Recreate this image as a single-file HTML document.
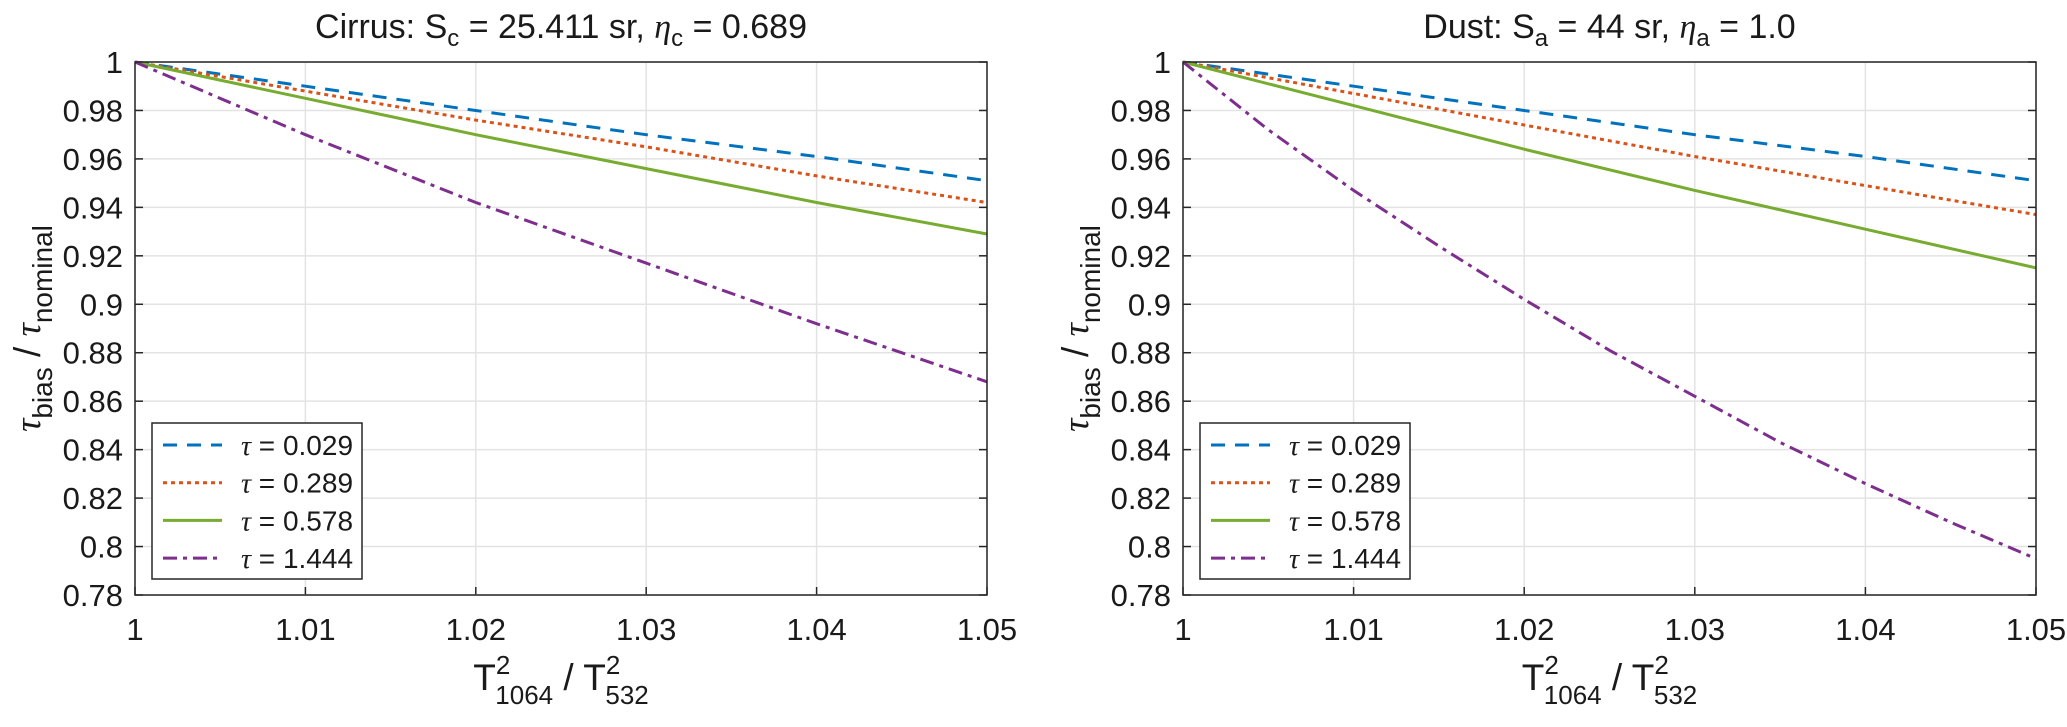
<!DOCTYPE html>
<html><head><meta charset="utf-8"><style>
body{margin:0;background:#fff}
svg text{font-family:"Liberation Sans",sans-serif;fill:#1a1a1a}
</style></head><body>
<svg id="c" width="2067" height="722" xmlns="http://www.w3.org/2000/svg"></svg>
<script>
const xTicks=[1,1.01,1.02,1.03,1.04,1.05];
const xTickLabels=["1","1.01","1.02","1.03","1.04","1.05"];
const yTicks=[0.78,0.8,0.82,0.84,0.86,0.88,0.9,0.92,0.94,0.96,0.98,1];
const yTickLabels=["0.78","0.8","0.82","0.84","0.86","0.88","0.9","0.92","0.94","0.96","0.98","1"];
const xs6=[1,1.01,1.02,1.03,1.04,1.05];
const xs11=[1,1.005,1.01,1.015,1.02,1.025,1.03,1.035,1.04,1.045,1.05];
const legendLabels=["0.029","0.289","0.578","1.444"];
const cirrusBlue=[1,0.990,0.980,0.970,0.961,0.951];
const cirrusRed=[1,0.988,0.976,0.965,0.953,0.942];
const cirrusGreen=[1,0.985,0.970,0.956,0.942,0.929];
const cirrusPurple=[1,0.970,0.942,0.917,0.892,0.868];
const dustBlue=[1,0.990,0.980,0.970,0.961,0.951];
const dustRed=[1,0.987,0.974,0.961,0.949,0.937];
const dustGreen=[1,0.982,0.964,0.947,0.931,0.915];
const dustPurple=[1,0.972,0.947,0.924,0.902,0.881,0.862,0.843,0.826,0.810,0.795];

const NS="http://www.w3.org/2000/svg";
const svg=document.getElementById('c');
function mk(t,a,p){const e=document.createElementNS(NS,t);for(const k in a)e.setAttribute(k,a[k]);(p||svg).appendChild(e);return e;}
const styles=[
 {stroke:"#0072bd",dash:"14 10"},
 {stroke:"#d95319",dash:"4 4"},
 {stroke:"#77ac30",dash:""},
 {stroke:"#7e2f8e",dash:"14 6 4 6"}];
function panel(name,L,R,T,B,title,series){
  const g=mk('g',{});
  
  
  const sx=v=>L+(v-1)/0.05*(R-L);
  const sy=v=>B-(v-0.78)/0.22*(B-T);
  xTicks.forEach((t,i)=>{
    const gl=mk('line',{x1:sx(t),x2:sx(t),y1:T,y2:B,stroke:"#e3e3e3","stroke-width":1.5},g);
    
    
    const tx=mk('text',{x:sx(t),y:B+45,"font-size":31,"text-anchor":"middle"},g);
    tx.textContent=xTickLabels[i];
    
    
    mk('line',{x1:sx(t),x2:sx(t),y1:B,y2:B-8,stroke:"#262626","stroke-width":1.5},g);
  });
  yTicks.forEach((t,i)=>{
    const gl=mk('line',{x1:L,x2:R,y1:sy(t),y2:sy(t),stroke:"#e3e3e3","stroke-width":1.5},g);
    
    
    const tx=mk('text',{x:L-12,y:sy(t)+11,"font-size":31,"text-anchor":"end"},g);
    tx.textContent=yTickLabels[i];
    
    
    mk('line',{x1:L,x2:L+8,y1:sy(t),y2:sy(t),stroke:"#262626","stroke-width":1.5},g);
    mk('line',{x1:R,x2:R-8,y1:sy(t),y2:sy(t),stroke:"#262626","stroke-width":1.5},g);
  });
  series.forEach((s,i)=>{
    const d=s.y.map((v,j)=>(j?'L':'M')+sx(s.x[j]).toFixed(1)+' '+sy(v).toFixed(1)).join(' ');
    const p=mk('path',{d:d,fill:"none",stroke:styles[i].stroke,"stroke-width":3,"stroke-dasharray":styles[i].dash},g);
    
    
  });
  const box=mk('rect',{x:L,y:T,width:R-L,height:B-T,fill:"none",stroke:"#262626","stroke-width":1.5},g);
  
  
  const lg=mk('g',{},g);
  
  
  mk('rect',{x:L+17,y:423,width:210,height:156,fill:"#fff",stroke:"#262626","stroke-width":1.5},lg);
  legendLabels.forEach((lab,i)=>{
    const y=445+i*37.7;
    mk('line',{x1:L+28,x2:L+87,y1:y,y2:y,stroke:styles[i].stroke,"stroke-width":3,"stroke-dasharray":styles[i].dash},lg);
    const t=mk('text',{x:L+106,y:y+10,"font-size":28},lg);
    t.innerHTML='<tspan font-family="Liberation Serif" font-style="italic">τ</tspan> = '+lab;
    
    
  });
  const tt=mk('text',{x:(L+R)/2,y:38,"font-size":34,"text-anchor":"middle"},g);
  tt.innerHTML=title;
  
  
  const xl=mk('text',{x:(L+R)/2,y:690,"font-size":37,"text-anchor":"middle"},g);
  xl.innerHTML='T<tspan dy="-16" font-size="26">2</tspan><tspan dx="-15" dy="30" font-size="26">1064</tspan><tspan dy="-14"> / T</tspan><tspan dy="-16" font-size="26">2</tspan><tspan dx="-15" dy="30" font-size="26">532</tspan>';
  
  
  const yl=mk('text',{x:0,y:0,"font-size":37,"text-anchor":"middle",transform:`translate(${L-95},${(T+B)/2}) rotate(-90)`},g);
  yl.innerHTML='<tspan font-family="Liberation Serif" font-style="italic">τ</tspan><tspan dy="12" font-size="28">bias</tspan><tspan dy="-12"> / </tspan><tspan font-family="Liberation Serif" font-style="italic">τ</tspan><tspan dy="12" font-size="28">nominal</tspan>';
  
  
}
panel('cirrus',135,987,62,595,'Cirrus: S<tspan dy="8" font-size="24">c</tspan><tspan dy="-8"> = 25.411 sr, </tspan><tspan font-family="Liberation Serif" font-style="italic">η</tspan><tspan dy="8" font-size="24">c</tspan><tspan dy="-8"> = 0.689</tspan>',
 [{x:xs6,y:cirrusBlue},{x:xs6,y:cirrusRed},{x:xs6,y:cirrusGreen},{x:xs6,y:cirrusPurple}]);
panel('dust',1183,2036,62,595,'Dust: S<tspan dy="8" font-size="24">a</tspan><tspan dy="-8"> = 44 sr, </tspan><tspan font-family="Liberation Serif" font-style="italic">η</tspan><tspan dy="8" font-size="24">a</tspan><tspan dy="-8"> = 1.0</tspan>',
 [{x:xs6,y:dustBlue},{x:xs6,y:dustRed},{x:xs6,y:dustGreen},{x:xs11,y:dustPurple}]);
</script>
</body></html>
